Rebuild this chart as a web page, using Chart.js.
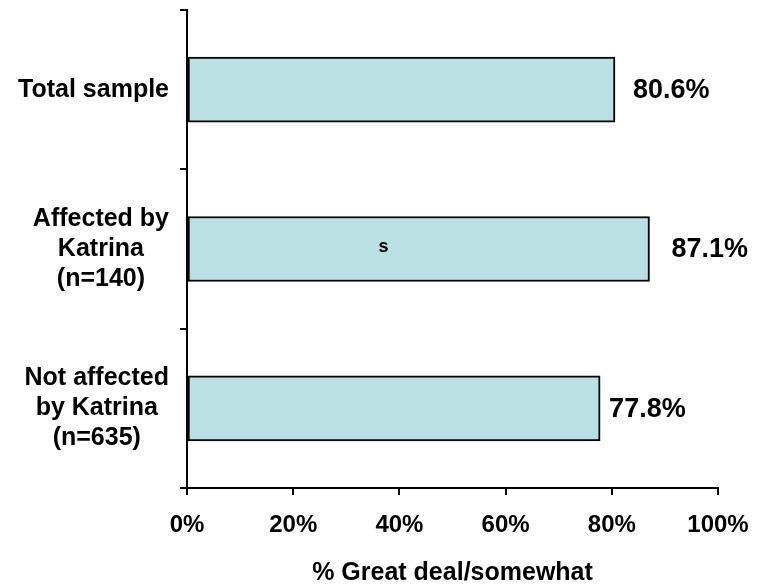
<!DOCTYPE html>
<html>
<head>
<meta charset="utf-8">
<title>% Great deal/somewhat</title>
<script src="https://cdn.jsdelivr.net/npm/chart.js@4.4.1/dist/chart.umd.min.js"></script>
<style>
  html, body { margin: 0; padding: 0; background: #fff; }
  #wrap { width: 769px; height: 584px; }
</style>
</head>
<body>
<div id="wrap"><canvas id="surveyChart" width="769" height="584"></canvas></div>
<script>
// ===== DATA =====
const categories = [
  ["Total sample"],
  ["Affected by", "Katrina", "(n=140)"],
  ["Not affected", "by Katrina", "(n=635)"]
];
const values = [80.6, 87.1, 77.8];
const valueLabels = ["80.6%", "87.1%", "77.8%"];
const xTicks = [0, 20, 40, 60, 80, 100];
const axisTitle = "% Great deal/somewhat";
// significance marker on the middle bar
const markText = "s";
const markCategory = 1;
const markValue = 37;

const FONT = "'Liberation Sans', Arial, Helvetica, sans-serif";

// ===== CATEGORY LABELS (block right-aligned, lines centred) =====
const categoryLabels = {
  id: "categoryLabels",
  afterDraw(chart) {
    const { ctx, scales } = chart;
    const y = scales.y;
    const rightEdge = chart.chartArea.left - 18;
    ctx.save();
    ctx.font = "bold 25px " + FONT;
    ctx.fillStyle = "#000";
    ctx.textAlign = "center";
    ctx.textBaseline = "middle";
    categories.forEach((lines, i) => {
      const w = Math.max(...lines.map(l => ctx.measureText(l).width));
      const cx = rightEdge - w / 2;
      const cy = y.getPixelForValue(i);
      const lh = 30;
      const top = cy - (lines.length - 1) * lh / 2;
      lines.forEach((l, k) => ctx.fillText(l, cx, top + k * lh));
    });
    ctx.restore();
  }
};

// ===== VALUE LABELS + MARKER =====
const labelGaps = [18, 22, 9];
const valueLabelsPlugin = {
  id: "valueLabels",
  afterDatasetsDraw(chart) {
    const { ctx } = chart;
    const bars = chart.getDatasetMeta(0).data;
    ctx.save();
    ctx.fillStyle = "#000";
    ctx.textBaseline = "middle";
    ctx.textAlign = "left";
    ctx.font = "bold 27px " + FONT;
    bars.forEach((bar, i) => {
      ctx.fillText(valueLabels[i], bar.x + labelGaps[i], bar.y + 1);
    });
    ctx.font = "bold 18px " + FONT;
    ctx.textAlign = "center";
    ctx.fillText(markText, chart.scales.x.getPixelForValue(markValue), bars[markCategory].y - 2);
    ctx.restore();
  }
};

// ===== CHART =====
const ctx = document.getElementById("surveyChart").getContext("2d");
const surveyChart = new Chart(ctx, {
  type: "bar",
  data: {
    labels: categories,
    datasets: [{
      data: values,
      backgroundColor: "#bbe0e3",
      borderColor: "#000",
      borderWidth: 2,
      borderSkipped: false,
      barThickness: 65,
    }],
  },
  options: {
    indexAxis: "y",
    responsive: false,
    animation: false,
    layout: {
      padding: { top: 10, right: 51, left: 0, bottom: 0 },
    },
    scales: {
      x: {
        min: 0,
        max: 100,
        afterFit: (scale) => { scale.height = 96; },
        afterBuildTicks: (scale) => { scale.ticks = xTicks.map(v => ({ value: v })); },
        ticks: {
          color: "#000",
          padding: 16,
          font: { family: FONT, size: 24, weight: "bold" },
          callback: (v) => v + "%",
        },
        grid: {
          drawOnChartArea: false,
          drawTicks: true,
          tickLength: 7,
          color: "#000",
          lineWidth: 2,
        },
        border: { color: "#000", width: 2 },
        title: {
          display: true,
          text: axisTitle,
          color: "#000",
          font: { family: FONT, size: 25, weight: "bold", lineHeight: 0.6 },
          padding: { top: 0, bottom: 3 },
        },
      },
      y: {
        afterFit: (scale) => { scale.width = 187; },
        ticks: { display: false },
        grid: {
          offset: true,
          drawOnChartArea: false,
          drawTicks: true,
          tickLength: 7,
          color: "#000",
          lineWidth: 2,
        },
        border: { color: "#000", width: 2 },
      },
    },
    plugins: {
      legend: { display: false },
      tooltip: { enabled: false },
    },
  },
  plugins: [categoryLabels, valueLabelsPlugin],
});
</script>
</body>
</html>
